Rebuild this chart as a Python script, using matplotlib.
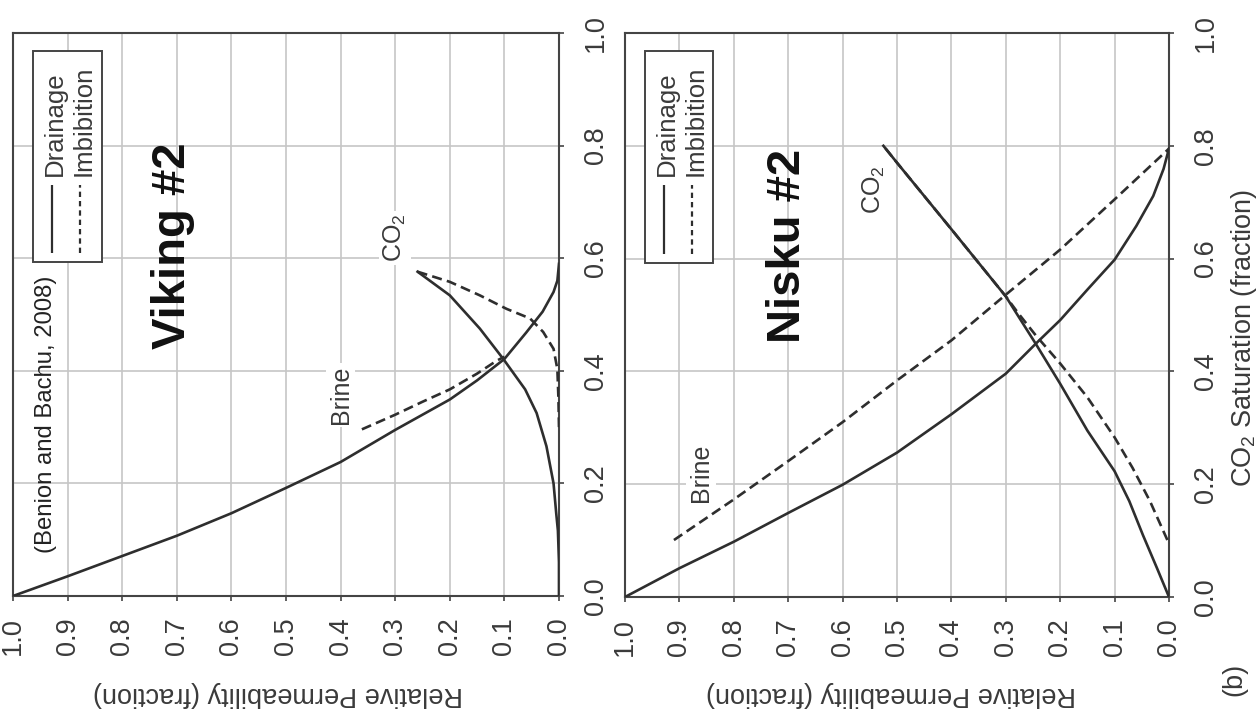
import matplotlib
matplotlib.use('Agg')
import matplotlib.pyplot as plt
from matplotlib.patches import Rectangle

plt.rcParams['font.family'] = ['Liberation Sans', 'DejaVu Sans']
plt.rcParams['mathtext.fontset'] = 'custom'
plt.rcParams['mathtext.rm'] = 'Liberation Sans'
plt.rcParams['mathtext.it'] = 'Liberation Sans:italic'

# ticks
kr_ticks = [0.0, 0.1, 0.2, 0.3, 0.4, 0.5, 0.6, 0.7, 0.8, 0.9, 1.0]
sat_ticks = [0.0, 0.2, 0.4, 0.6, 0.8, 1.0]

# Viking #2 (relative permeability vs CO2 saturation)
vik_drain_brine_kr = [1.0, 0.9, 0.8, 0.7, 0.6, 0.5, 0.4, 0.3, 0.2, 0.15, 0.1, 0.06, 0.03, 0.01, 0.003, 0.0]
vik_drain_brine_s = [0.0, 0.035, 0.071, 0.107, 0.147, 0.192, 0.238, 0.295, 0.349, 0.383, 0.421, 0.468, 0.505, 0.54, 0.56, 0.59]
vik_drain_co2_kr = [0.0, 0.0, 0.002, 0.005, 0.01, 0.023, 0.041, 0.062, 0.102, 0.145, 0.2, 0.259]
vik_drain_co2_s = [0.0, 0.06, 0.116, 0.146, 0.2, 0.266, 0.325, 0.367, 0.421, 0.475, 0.534, 0.576]
vik_imb_brine_kr = [0.361, 0.3, 0.25, 0.2, 0.15, 0.114, 0.1]
vik_imb_brine_s = [0.296, 0.322, 0.345, 0.367, 0.395, 0.418, 0.425]
vik_imb_co2_kr = [0.259, 0.2, 0.145, 0.096, 0.053, 0.029, 0.01, 0.003, 0.001, 0.0]
vik_imb_co2_s = [0.576, 0.558, 0.534, 0.51, 0.493, 0.469, 0.439, 0.403, 0.35, 0.30]

# Nisku #2
nis_drain_brine_kr = [1.0, 0.9, 0.8, 0.7, 0.6, 0.5, 0.4, 0.3, 0.245, 0.2, 0.15, 0.1, 0.06, 0.029, 0.01, 0.0]
nis_drain_brine_s = [0.0, 0.051, 0.098, 0.149, 0.199, 0.256, 0.324, 0.396, 0.449, 0.491, 0.545, 0.598, 0.658, 0.711, 0.759, 0.795]
nis_drain_co2_kr = [0.0, 0.022, 0.048, 0.073, 0.1, 0.15, 0.2, 0.245, 0.3, 0.4, 0.5, 0.525]
nis_drain_co2_s = [0.0, 0.051, 0.11, 0.17, 0.223, 0.295, 0.378, 0.449, 0.533, 0.652, 0.77, 0.80]
nis_imb_brine_kr = [0.91, 0.8, 0.7, 0.6, 0.5, 0.4, 0.3, 0.2, 0.1, 0.0]
nis_imb_brine_s = [0.101, 0.173, 0.241, 0.31, 0.384, 0.455, 0.536, 0.616, 0.705, 0.795]
nis_imb_co2_kr = [0.003, 0.035, 0.067, 0.1, 0.15, 0.2, 0.245, 0.277, 0.3, 0.4, 0.5, 0.525]
nis_imb_co2_s = [0.101, 0.17, 0.229, 0.283, 0.354, 0.414, 0.464, 0.503, 0.533, 0.652, 0.77, 0.80]

line_c = '#2e2e2e'
spine_c = '#444444'
text_c = '#3a3a3a'
grid_c = '#c6c6c6'
dash = (0, (3.8, 2.0))


def panel(ax, drain_brine, drain_co2, imb_brine, imb_co2, name, name_pos, co2_pos, brine_pos):
    ax.plot(*drain_brine, color=line_c, lw=1.9, zorder=4)
    ax.plot(*drain_co2, color=line_c, lw=1.9, zorder=4)
    ax.plot(*imb_brine, color=line_c, lw=1.9, ls=dash, zorder=4)
    ax.plot(*imb_co2, color=line_c, lw=1.9, ls=dash, zorder=4)

    ax.set_xlim(1, 0)
    ax.set_ylim(0, 1)
    ax.set_xticks(kr_ticks, [f'{t:.1f}' for t in kr_ticks])
    ax.set_yticks(sat_ticks, [f'{t:.1f}' for t in sat_ticks])
    ax.yaxis.tick_right()
    ax.tick_params(axis='both', direction='out', length=3.6, width=1.2, color=spine_c,
                   labelsize=19.5, labelcolor=text_c)
    ax.tick_params(axis='x', labelrotation=90, pad=11.5)
    ax.tick_params(axis='y', labelrotation=90, pad=13.7)
    for lab in ax.get_yticklabels():
        lab.set_va('center')
    ax.grid(True, color=grid_c, lw=1.2)
    ax.set_axisbelow(True)
    for sp in ax.spines.values():
        sp.set_color(spine_c)
        sp.set_linewidth(1.5)

    # legend drawn sideways
    ax.add_patch(Rectangle((0.036, 0.593), 0.1265, 0.375, transform=ax.transAxes,
                           fc='white', ec=spine_c, lw=1.4, zorder=5))
    ax.plot([0.0714, 0.0714], [0.609, 0.73], transform=ax.transAxes,
            color=line_c, lw=1.6, zorder=6, solid_capstyle='butt')
    ax.plot([0.1227, 0.1227], [0.609, 0.73], transform=ax.transAxes,
            color=line_c, lw=1.6, ls=(0, (2.4, 1.8)), zorder=6)
    ax.text(0.077, 0.746, 'Drainage', transform=ax.transAxes, rotation=90,
            rotation_mode='anchor', ha='left', va='center', fontsize=18.5, color=text_c, zorder=6)
    ax.text(0.130, 0.746, 'Imbibition', transform=ax.transAxes, rotation=90,
            rotation_mode='anchor', ha='left', va='center', fontsize=18.5, color=text_c, zorder=6)

    ax.text(*name_pos, name, rotation=90, rotation_mode='anchor', ha='center', va='baseline',
            fontsize=34, fontweight='bold', color='#111111', zorder=6)
    box = dict(fc='white', ec='none', pad=2)
    ax.text(*co2_pos, 'CO$_2$', rotation=90, ha='center', va='center', fontsize=18,
            color=text_c, bbox=box, zorder=3)
    ax.text(*brine_pos, 'Brine', rotation=90, ha='center', va='center', fontsize=18,
            color=text_c, bbox=box, zorder=3)


fig = plt.figure(figsize=(12.6, 7.26), dpi=100)
ax1 = fig.add_axes([13 / 1260, 1 - 596 / 726, 546 / 1260, 563 / 726])
ax2 = fig.add_axes([625 / 1260, 1 - 597 / 726, 544 / 1260, 564 / 726])

panel(ax1, (vik_drain_brine_kr, vik_drain_brine_s), (vik_drain_co2_kr, vik_drain_co2_s),
      (vik_imb_brine_kr, vik_imb_brine_s), (vik_imb_co2_kr, vik_imb_co2_s),
      'Viking #2', (0.685, 0.623), (0.30, 0.636), (0.40, 0.357))
panel(ax2, (nis_drain_brine_kr, nis_drain_brine_s), (nis_drain_co2_kr, nis_drain_co2_s),
      (nis_imb_brine_kr, nis_imb_brine_s), (nis_imb_co2_kr, nis_imb_co2_s),
      'Nisku #2', (0.678, 0.622), (0.542, 0.723), (0.86, 0.221))

ax1.text(0.929, 0.322, '(Benion and Bachu, 2008)', rotation=90, rotation_mode='anchor',
         ha='center', va='baseline', fontsize=17.2, color='#222222', zorder=6)

fig.text(278 / 1260, 1 - 694 / 726, 'Relative Permeability (fraction)', rotation=180,
         ha='center', va='center', fontsize=19.5, color=text_c)
fig.text(891 / 1260, 1 - 694 / 726, 'Relative Permeability (fraction)', rotation=180,
         ha='center', va='center', fontsize=19.5, color=text_c)
fig.text(1244 / 1260, 1 - 338 / 726, 'CO$_2$ Saturation (fraction)', rotation=90,
         ha='center', va='center', fontsize=19.5, color=text_c)
fig.text(1234 / 1260, 1 - 679 / 726, '(b)', rotation=90, ha='center', va='center',
         fontsize=19.5, color=text_c)

fig.savefig('out.png', dpi=100, facecolor='white')
